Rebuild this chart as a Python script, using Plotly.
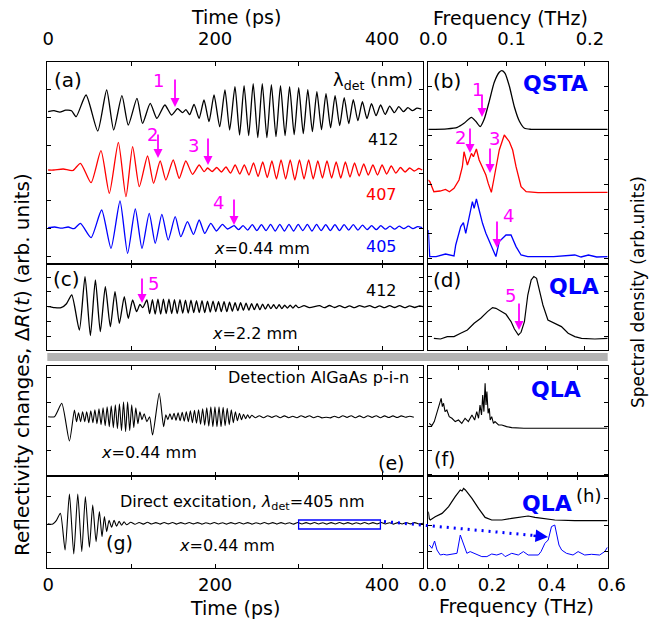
import plotly.graph_objects as go

W, H = 665, 622
FONT = "DejaVu Sans"
MAG = "#ff00ff"
RED = "#ff0000"
BLUE = "#0000ff"

# ---------------- data ----------------
# time traces: extrema times (ps) and signal values (arb. units)
a412_t = [0, 7, 14, 21, 28, 33.5, 45.4, 59.4, 70.1, 78.5, 88.4, 96.0, 106.4, 113.1, 122.3, 130.3, 139.8, 147.8, 155.0, 161.0,
          165.0, 169.5, 174.8, 180.8, 186.7, 192.7, 198.7, 205.5, 211.8, 217.4, 223.8, 229.3, 234.7, 240.2, 245.6, 251.1,
          256.5, 262.0, 267.4, 272.9, 278.3, 283.8, 289.2, 294.7, 300.1, 305.6, 311.0, 316.5, 321.9, 327.4, 332.8, 338.3,
          343.7, 349.2, 354.6, 360.1, 365.5, 371.0, 376.4, 381.9, 387.3, 392.8, 398.2, 403.7, 409.1, 414.6, 420.0, 425.5,
          430.9, 436.4, 441.8, 447.0]
a412_v = [0, 1, -0.5, 1.5, 1, -5, 16.7, -19.3, 21.7, -18.3, 16, -13.3, 13.3, -11.7, 8.3, -6.7, 6.7, -3.3, 3, -1,
          2, -3, 7.3, -6.7, 11.7, -10, 16.7, -15, 21.7, -18.3, 25, -23.3, 26, -24, 28, -26,
          28, -26, 27, -25, 26, -24, 25, -23, 24, -22, 22, -20, 20, -18, 18, -16,
          16, -14, 14, -12, 12, -9, 10, -7, 8, -4, 6.7, -2.7, 5.5, -1, 5, 0,
          4, 1, 3.5, 2.5]

a407_t = [0, 6.8, 18, 29.5, 38.7, 51.4, 63.3, 73.3, 84.1, 93.2, 101.2, 109.2, 119.1, 126.3, 134.2, 141.0, 149.8, 157.0,
          164.9, 172.9, 180.9, 186.8, 191.0, 196.5, 202.0, 207.5, 213.0, 218.5, 224.0, 229.5, 235.0, 240.5, 246.0, 251.5,
          257.0, 262.5, 268.0, 273.5, 279.0, 284.5, 290.0, 295.5, 301.0, 306.5, 312.0, 317.5, 323.0, 328.5, 334.0, 339.5,
          345.0, 350.5, 356.0, 361.5, 367.0, 372.5, 378.0, 383.5, 389.0, 394.5, 400.0, 405.5, 411.0, 416.5, 422.0, 427.5,
          433.0, 438.5, 444.0, 448.0]
a407_v = [0, 0, 1, -0.5, 6.7, -12.7, 19.3, -23.3, 27.7, -26.7, 23.3, -16.7, 14, -13.3, 9, -10, 10, -8.3,
          9, -4.3, 5, -1.7, 2, -1.5, 2.5, -2, 3, -3, 5, -4, 5, -5, 7, -6.5,
          8, -7.5, 9, -9, 10, -9, 10, -10, 10, -9, 10, -9, 9, -8, 9, -8,
          8, -8, 8, -7, 7, -6, 6, -5, 5, -5, 5, -4, 4, -3, 2.5, -2,
          2, -1, 1.5, 0]

a405_t = [0, 8, 16, 24, 31, 38.7, 51.4, 64.1, 75.3, 86.1, 95.2, 104.4, 112.4, 121.1, 128.3, 136.2, 143.8, 152.2, 158.9,
          166.9, 174.1, 180.9, 187.6, 194.8, 201.6, 208.7, 214.7, 222.7, 228.0, 233.5, 239.0, 244.5, 250.0, 255.5, 261.0,
          266.5, 272.0, 277.5, 283.0, 288.5, 294.0, 299.5, 305.0, 310.5, 316.0, 321.5, 327.0, 332.5, 338.0, 343.5, 349.0,
          354.5, 360.0, 365.5, 371.0, 376.5, 382.0, 387.5, 393.0, 398.5, 404.0, 409.5, 415.0, 420.5, 426.0, 431.5, 437.0,
          442.5, 448.0]
a405_v = [0, 0.7, -0.5, 0.7, -1, 4.3, -10, 17.7, -20.7, 26.7, -25.7, 18.7, -20.7, 14.3, -15.7, 13.3, -12.3, 11, -9,
          6, -6.7, 7.7, -5.7, 4.3, -3.3, 3.3, -1.3, 2, -2, 2, -2.5, 3, -3, 3, -3,
          3.3, -3.3, 3.3, -3.3, 3.3, -3.3, 3.3, -3, 3.3, -3.3, 3.3, -3, 3, -3, 3, -3,
          3, -2.5, 3, -2.5, 2.5, -2, 2, -2, 2, -1.5, 1.5, -1.5, 1.5, -1, 1.5, -1,
          1, 0]

c412_t = [0, 1.6, 8, 15.5, 22, 28.3, 37.4, 44.2, 50.6, 56.6, 62.5, 68.5, 74.5, 80.1, 85.3, 91.2, 96.0, 101.2, 106.0, 110.0,
          113.2, 118.3,
          121.6, 124.9, 128.2, 131.5, 134.8, 138.1, 141.4, 144.7, 148.0, 151.3, 154.6, 157.9, 161.2, 164.5, 167.8, 171.1,
          174.4, 177.7, 181.0, 184.3, 187.6, 190.9, 194.2, 197.5, 200.8, 204.1, 207.4, 210.7, 214.0, 217.3, 220.6, 223.9,
          227.2, 230.5, 233.8, 237.1, 240.4, 243.7, 247.0, 250.3, 253.6, 256.9, 260.2, 263.5, 266.8, 270.1, 273.4, 276.7,
          280.0, 283.3, 286.6, 289.9, 293.2, 296.5, 299.8,
          306.5, 313,
          325, 331, 337, 343, 349, 355, 361, 367, 373, 379, 385, 391, 397, 403, 409, 415, 421, 427, 433, 439, 445, 449]
c412_v = [0, 0, -1, -1, 3, 11.7, -23.3, 30, -29, 26.7, -25, 20, -20, 15, -16.7, 10, -11.7, 6.7, -5, 2.3,
          -1, 6.7,
          -7, 7, -7.5, 7.5, -7.5, 7.5, -7, 7.5, -7, 7, -7, 7, -6.5, 6.5, -6.5, 6.5, -6, 6, -6, 6,
          -6, 5.5, -5.5, 5.5, -5, 5, -5, 5, -5, 4.5, -4.5, 4, -4, 4, -3.5, 3.5, -3.5, 3, -3, 3,
          -3, 2.5, -2.5, 2.5, -2, 2, -2, 2, -2, 1.5, -1.5, 1.5, -1.5, 1.5, -1,
          1, -1,
          1, -1, 1.2, -0.8, 1, -1, 0.8, -1, 1, -0.5, 1, -1, 0.8, -1, 1, -0.8, 1, -1, 0.8, -0.8, 0.8, 0]

e_t = [0, 7.6, 16.3, 25.5, 31.5, 34.0, 36.4, 38.9, 41.3, 43.8, 46.2, 48.7, 51.1, 53.6, 56.0, 58.5, 60.9, 63.4, 65.8, 68.3,
       70.7, 73.2, 75.6, 78.1, 80.5, 83.0, 85.4, 87.9, 90.3, 92.8, 95.2, 97.7, 100.1, 102.6, 105.0, 107.5, 109.9, 112.4,
       115.0, 118.3, 121.5, 125.1, 133.1, 138.3, 141.0, 143.4, 145.9, 148.3, 150.8, 153.2, 155.7, 158.1, 160.6, 163.0,
       165.5, 167.9, 170.4, 172.8, 175.3, 177.7, 180.2, 182.6, 185.1, 187.5, 190.0, 192.4, 194.9, 197.3, 199.8, 202.2,
       204.7, 207.1, 209.6, 212.0, 214.5, 216.9, 219.4, 221.8, 224.3, 226.7, 229.2, 231.6, 234.1, 236.5, 239.0, 241.4,
       243.9, 248, 253, 258, 263, 268, 273, 278, 283, 288, 293, 298, 303, 308, 313, 318, 323, 328, 333, 338, 343, 348,
       353, 358, 363, 368, 373, 378, 383, 388, 393, 398, 403, 408, 413, 418, 423, 428, 433, 438]
e_v = [0, 0, 13.3, -24.3, 6.7, -5, 4, -5, 5, -5, 5, -6, 6, -6, 7, -7, 8, -8, 9, -9,
       10, -10, 11, -11, 12, -12, 13, -14, 15, -15, 15, -14, 12, -11, 9, -7, 5, -3,
       3, -5, 0, -18.3, 23.3, -10, 2, -3, 3, -3, 3.5, -3.5, 4, -4, 4.5, -4.5,
       5, -5, 6, -6, 6.5, -6.5, 7, -7.5, 8, -8.5, 9, -9.5, 10, -10, 10, -10,
       10, -10, 9.5, -9, 8.5, -8, 7, -6, 5, -4, 3.5, -3, 2.5, -2, 2, -1.5,
       1.5, -1, 1, -1, 1, -0.8, 1, -1, 0.8, -1, 0.5, -1, 1, -0.8, 1, -1, 0.5, -1.2, -0.5, -1.2,
       0.5, -1, 1, -0.8, 1, -1, 0.8, -1, 1, -0.8, 1, -1, 0.8, -0.8, 0.8, -0.8, 0.8, -0.5, 0.5, -0.5]

g_t = [0, 0.4, 5.6, 10, 14.7, 20.3, 25.5, 30.7, 35.5, 40.3, 44.6, 49.4, 53.4, 57.4, 61.4, 64.5, 67.4, 70.1, 73, 76,
       79, 82, 85, 88, 91, 94, 99, 104, 109, 114, 119, 124, 129, 134, 139, 144, 149, 154, 159, 164, 169, 174, 179,
       184, 189, 194, 199, 204, 209, 214, 219, 224, 229, 234, 239, 244, 249, 254, 259, 264, 269, 274, 279, 284, 289,
       294, 299, 304, 309, 314, 319, 324, 329, 334, 339, 344, 349, 354, 359, 364, 369, 374, 379, 384, 389, 394, 399,
       404, 409, 414, 419, 424, 429, 434, 439, 444, 449]
g_v = [0, -0.7, -0.7, 3, 10, -26.7, 29.3, -30.7, 29.3, -28.3, 26.7, -24, 18.3, -18.3, 11.7, -13.3, 6.7, -8.3, 3, -4,
       3, -3, 2, -2, 1.5, -1.5,
       1, -1, 0.8, -0.8, 1, -0.7, 0.7, -0.8, 0.8, -0.6, 0.8, -0.8, 0.7, -0.7, 0.8, -0.6, 0.7, -0.8, 0.6, -0.7,
       0.8, -0.7, 0.6, -0.8, 0.7, -0.6, 0.8, -0.7, 0.7, -0.8, 0.6, -0.7, 0.8, -0.6, 0.7, -0.8, 0.7, -0.7, 0.6, -0.8,
       0.8, -0.7, 0.7, -0.6, 0.8, -0.7, 0.6, -0.8, 0.7, -0.7, 0.8, -0.6, 0.7, -0.8, 0.6, -0.7, 0.8, -0.7, 0.7, -0.6,
       0.8, -0.7, 0.6, -0.8, 0.7, -0.7, 0.8, -0.6, 0.7, -0.7, 0]

# spectra: frequency (THz) and spectral density (arb. units)
b412_f = [0.0, 0.024, 0.037, 0.0456, 0.055, 0.0606, 0.0662, 0.0713, 0.0778, 0.0842, 0.0906, 0.094, 0.098, 0.1035,
          0.11, 0.1163, 0.1228, 0.131, 0.16, 0.2, 0.229]
b412_s = [0, 0.5, 2, 6, 12, 8, 2.7, 10, 28, 47, 57, 58.7, 56, 43, 22, 8, 1, 0, 0, 0, 0]

b407_f = [0.0, 0.002, 0.0071, 0.015, 0.022, 0.027, 0.0328, 0.0392, 0.0435, 0.0456, 0.0499, 0.055, 0.0576, 0.0614,
          0.0649, 0.0692, 0.0735, 0.0765, 0.0805, 0.0835, 0.0863, 0.0906, 0.097, 0.1035, 0.1077, 0.112, 0.1184, 0.1249,
          0.14, 0.17, 0.2, 0.229]
b407_s = [12.7, 11, 1, 1.7, 3.3, 1, 4.3, 12.7, 26, 41, 27.7, 39.3, 36, 43.7, 32.7, 24.3, 17.7, 9.3, 0.3, 12.7,
          26, 42.7, 57.7, 51, 42.7, 26, 6, 1, 0, 0.3, 0, 0.3]

b405_f = [0.0, 0.0018, 0.01, 0.022, 0.0328, 0.035, 0.0414, 0.0448, 0.0478, 0.052, 0.0563, 0.0585, 0.0614, 0.0649,
          0.0692, 0.0735, 0.08, 0.0863, 0.0906, 0.0992, 0.1056, 0.112, 0.1184, 0.127, 0.16, 0.187, 0.195, 0.2044,
          0.215, 0.229]
b405_s = [27.3, 0.7, 0.7, 3.3, 1.3, 12.3, 30.7, 34.7, 24, 40.7, 55.7, 49, 58.3, 47.3, 34, 24, 12.3, 0.7, 15.7, 22.3,
          22.3, 10.7, 2.3, 0.7, 0.7, 2.3, 0.3, 2.3, 0.3, 0.7]

d412_f = [0.0071, 0.0156, 0.0242, 0.0328, 0.0413, 0.0499, 0.0585, 0.067, 0.0756, 0.082, 0.0863, 0.0927, 0.0992,
          0.1056, 0.1099, 0.115, 0.1184, 0.1227, 0.127, 0.1313, 0.1347, 0.1382, 0.142, 0.1463, 0.1527, 0.1613, 0.1699,
          0.1785, 0.187, 0.1956, 0.2127, 0.229]
d412_s = [0, -0.7, 1.7, 1.7, 5, 8.3, 15, 20, 26.7, 30.7, 30, 26.7, 24, 16.7, 9.3, 3.3, 6, 16.7, 43.3, 58.3,
          61.7, 60, 46.7, 33.3, 18.3, 15, 11.7, 5, 1.7, 0, -0.7, 0]

f_f = [0.003, 0.012, 0.02, 0.028, 0.034, 0.038, 0.043, 0.047, 0.051, 0.056, 0.062, 0.07, 0.079, 0.09, 0.101, 0.112,
       0.123, 0.134, 0.146, 0.155, 0.162, 0.168, 0.173, 0.178, 0.182, 0.186, 0.19, 0.193, 0.196, 0.2, 0.204, 0.207,
       0.212, 0.218, 0.223, 0.235, 0.246, 0.262, 0.279, 0.32, 0.4, 0.5, 0.599]
f_s = [5, 2.7, 6.7, 15, 20, 23, 30, 21.7, 25, 16.7, 18.3, 11.7, 10, 6.7, 8.3, 5, 10, 6.7, 13.3, 8.3, 16.7, 10, 23.3,
       13.3, 33.3, 16.7, 45, 23.3, 36.7, 15, 20, 8.3, 11.7, 5, 6.7, 3.3, 3.3, 1.7, 0.7, 0, 0, 0, 0]

h_f = [0.0, 0.0033, 0.0067, 0.023, 0.046, 0.068, 0.09, 0.1, 0.107, 0.113, 0.118, 0.124, 0.129, 0.146, 0.168, 0.19,
       0.212, 0.246, 0.279, 0.312, 0.334, 0.357, 0.379, 0.423, 0.49, 0.599]
h_s = [9, 2, 0.7, 4, 7.3, 14, 24, 27.3, 30.7, 29.7, 32.3, 30.7, 29, 22.3, 12.3, 3.3, 0.7, 0.7, 2.3, 4, 4.7, 3.3,
       2.3, 0.7, 0, 0]

hz_f = [0.0033, 0.012, 0.021, 0.029, 0.04, 0.051, 0.062, 0.079, 0.096, 0.107, 0.118, 0.129, 0.14, 0.157, 0.179,
        0.196, 0.212, 0.229, 0.246, 0.257, 0.279, 0.301, 0.318, 0.334, 0.368, 0.377, 0.39, 0.401, 0.412, 0.423,
        0.437, 0.446, 0.462, 0.484, 0.501, 0.523, 0.546, 0.573, 0.59, 0.599]
hz_s = [9.3, 6, 13.3, 4.3, -0.7, 0, -0.7, 0, 1, 19.3, 11, 1, 2.7, 0.3, -2.3, -2.3, 0.3, -0.7, 1, -2.3,
        1, -0.7, 2.7, -0.7, -0.7, 2.7, 11, 14.3, 27.7, 29.3, 9.3, 4.3, 1, -0.7, 2.7, -0.7, 0, -0.7, 2.7, 7]

time_ticks = [0, 100, 200, 300, 400]
time_labels = ["0", "", "200", "", "400"]
fq_ticks = [0, 0.05, 0.1, 0.15, 0.2]
fq_labels = ["0.0", "", "0.1", "", "0.2"]
fw_ticks = [0, 0.1, 0.2, 0.3, 0.4, 0.5, 0.6]
fw_labels = ["0.0", "", "0.2", "", "0.4", "", "0.6"]

# ---------------- layout geometry (pixels) ----------------
LX = (47.3, 423.0)
RX = (428.3, 607.7)
ROWS = {"A": (62.0, 263.5), "C": (263.5, 349.5), "E": (365.5, 475.7), "G": (475.7, 567.5)}


def px(x):
    return x / W


def py(y):
    return 1 - y / H


def xdom(c):
    return [px(c[0]), px(c[1])]


def ydom(r):
    t, b = ROWS[r]
    return [py(b), py(t)]


def rheight(r):
    t, b = ROWS[r]
    return b - t


fig = go.Figure()


def add(xs, ys, off, n, color, width=1.3, shape="spline"):
    fig.add_trace(go.Scatter(
        x=xs, y=[v + off for v in ys], mode="lines",
        line=dict(color=color, width=width, shape=shape, smoothing=0.6 if shape == "spline" else None),
        xaxis="x" if n == 1 else f"x{n}", yaxis="y" if n == 1 else f"y{n}",
        hoverinfo="skip"))


add(a412_t, a412_v, 151.8, 1, "black")
add(a407_t, a407_v, 93.5, 1, RED)
add(a405_t, a405_v, 35.8, 1, BLUE)
add(c412_t, c412_v, 42.8, 2, "black")
add(e_t, e_v, 59.0, 3, "black", 1.1)
add(g_t, g_v, 44.2, 4, "black", 1.1)
add(b412_f, b412_s, 134.2, 5, "black", 1.3, "spline")
add(b407_f, b407_s, 70.8, 5, RED, 1.3, "linear")
add(b405_f, b405_s, 6.2, 5, BLUE, 1.3, "linear")
add(d412_f, d412_s, 11.2, 6, "black", 1.2, "linear")
add(f_f, f_s, 47.4, 7, "black", 1.1, "linear")
add(h_f, h_s, 46.8, 8, "black", 1.2, "linear")
add(hz_f, hz_s, 13.2, 8, BLUE, 1.0, "linear")


def xax(col, row, rng, tv, tt, side=None, labels=False, shift=0):
    d = dict(domain=xdom(col), range=rng, showline=True, linecolor="black", linewidth=1, mirror="ticks",
             ticks="inside", ticklen=4, tickcolor="black", tickvals=tv, ticktext=tt, showgrid=False,
             zeroline=False, showticklabels=labels, automargin=False,
             tickfont=dict(family=FONT, size=18, color="black"))
    if side:
        d["side"] = side
    if labels:
        d["ticklabelstandoff"] = 9 if side == "top" else 1
        if shift:
            d["ticklabelshift"] = shift
    return d


def yax(col, row, anchor, tick0, dtick):
    return dict(domain=ydom(row), range=[0, rheight(row)], showline=True, linecolor="black", linewidth=1,
                mirror="ticks", ticks="inside", ticklen=4, tickcolor="black", tick0=tick0, dtick=dtick,
                showticklabels=False, showgrid=False, zeroline=False, anchor=anchor, automargin=False)


TR = [-1, 449]
FR1 = [0, 0.229]
FR2 = [0, 0.6]

lay = dict(
    width=W, height=H, autosize=False,
    margin=dict(l=0, r=0, t=0, b=0, pad=0, autoexpand=False),
    paper_bgcolor="white", plot_bgcolor="white",
    showlegend=False, font=dict(family=FONT, color="black"),
    xaxis=dict(xax(LX, "A", TR, time_ticks, time_labels, "top", True), anchor="y"),
    yaxis=yax(LX, "A", "x", 6.8, 27.9),
    xaxis2=dict(xax(LX, "C", TR, time_ticks, time_labels), anchor="y2"),
    yaxis2=yax(LX, "C", "x2", 13.5, 14.75),
    xaxis3=dict(xax(LX, "E", TR, time_ticks, time_labels), anchor="y3"),
    yaxis3=yax(LX, "E", "x3", 0.5, 24.4),
    xaxis4=dict(xax(LX, "G", TR, time_ticks, time_labels, "bottom", True), anchor="y4"),
    yaxis4=yax(LX, "G", "x4", 15.2, 28),
    xaxis5=dict(xax(RX, "A", FR1, fq_ticks, fq_labels, "top", True, 5), anchor="y5"),
    yaxis5=yax(RX, "A", "x5", 5.2, 24.6),
    xaxis6=dict(xax(RX, "C", FR1, fq_ticks, fq_labels), anchor="y6"),
    yaxis6=yax(RX, "C", "x6", 12.8, 15),
    xaxis7=dict(xax(RX, "E", FR2, fw_ticks, fw_labels), anchor="y7"),
    yaxis7=yax(RX, "E", "x7", 1.5, 24),
    xaxis8=dict(xax(RX, "G", FR2, fw_ticks, fw_labels, "bottom", True, 4), anchor="y8"),
    yaxis8=yax(RX, "G", "x8", 15.8, 26.7),
)
fig.update_layout(**lay)

anns = []


def txt(s, x, y, size=16, color="black", bold=False, angle=0, xanchor="center"):
    anns.append(dict(text=f"<b>{s}</b>" if bold else s, x=px(x), y=py(y), xref="paper", yref="paper",
                     showarrow=False, xanchor=xanchor, yanchor="middle", textangle=angle,
                     font=dict(family=FONT, size=size, color=color)))


def arrow(x, y_tail, y_tip, color=MAG):
    anns.append(dict(text="", x=px(x), y=py(y_tip), xref="paper", yref="paper", ax=0, ay=y_tail - y_tip,
                     showarrow=True, arrowhead=2, arrowsize=1, arrowwidth=1.8, arrowcolor=color, standoff=0))


# axis titles
txt("Time (ps)", 236, 17, 19)
txt("Frequency (THz)", 511, 18, 19)
txt("Time (ps)", 235, 608, 19)
txt("Frequency (THz)", 516, 606, 19)
txt("Reflectivity changes, Δ<i>R</i>(<i>t</i>) (arb. units)", 22, 365, 20, angle=-90)
txt("Spectral density (arb.units)", 638, 292, 17, angle=-90)

# panel texts
txt("(a)", 68, 80, 20)
txt("λ<sub>det</sub> (nm)", 373, 81, 18)
txt("412", 383, 140, 16)
txt("407", 382, 194, 16, RED)
txt("405", 382, 247, 16, BLUE)
txt("<i>x</i>=0.44 mm", 262, 248, 16)
txt("(c)", 66, 279, 20)
txt("412", 382, 290, 16)
txt("<i>x</i>=2.2 mm", 255, 333, 16)
txt("Detection AlGaAs p-i-n", 318, 377, 16)
txt("<i>x</i>=0.44 mm", 149, 452, 16)
txt("(e)", 392, 463, 19)
txt("Direct excitation, <i>λ</i><sub>det</sub>=405 nm", 242, 502, 16)
txt("(g)", 119, 543, 19)
txt("<i>x</i>=0.44 mm", 227, 545, 16)
txt("(b)", 447, 81, 20)
txt("QSTA", 555, 84, 22, BLUE, bold=True)
txt("(d)", 447, 280, 20)
txt("QLA", 574, 286, 22, BLUE, bold=True)
txt("QLA", 556, 389, 22, BLUE, bold=True)
txt("(f)", 445, 459, 19)
txt("QLA", 547, 503, 22, BLUE, bold=True)
txt("(h)", 588, 495, 18)

# magenta markers
for s, x, y in [("1", 158, 80), ("2", 152, 135), ("3", 193, 145), ("4", 218, 203), ("5", 153, 283),
                ("1", 477, 89), ("2", 460, 137), ("3", 494, 138), ("4", 508, 215), ("5", 510, 295)]:
    txt(s, x, y, 18, MAG)
for x, yt, yp in [(175, 78, 107), (158, 133, 158), (208, 137, 165), (234, 198, 225), (142, 277, 303),
                  (482, 93, 117), (470, 127, 153), (490, 147, 173), (497, 220, 248), (519, 302, 330)]:
    arrow(x, yt, yp)

# blue arrow head of the dotted link
anns.append(dict(text="", x=px(548), y=py(537), xref="paper", yref="paper", ax=-16, ay=-1.5, showarrow=True,
                 arrowhead=2, arrowsize=1, arrowwidth=2.5, arrowcolor=BLUE, standoff=0))

fig.update_layout(annotations=anns)

shapes = [
    dict(type="rect", xref="paper", yref="paper", x0=px(47.3), x1=px(607.7), y0=py(361), y1=py(353),
         fillcolor="#b3b3b3", line=dict(width=0), layer="above"),
    dict(type="rect", xref="x4", yref="y4", x0=300, x1=398, y0=38.5, y1=47.5,
         line=dict(color=BLUE, width=1.3), fillcolor="rgba(0,0,0,0)"),
    dict(type="line", xref="paper", yref="paper", x0=px(384), y0=py(521.5), x1=px(534), y1=py(535.5),
         line=dict(color=BLUE, width=3, dash="2px,5px")),
]
fig.update_layout(shapes=shapes)

fig.write_html("out.html", config={"responsive": False, "displayModeBar": False},
               post_script="document.body.style.margin='0px';document.body.style.overflow='hidden';")
